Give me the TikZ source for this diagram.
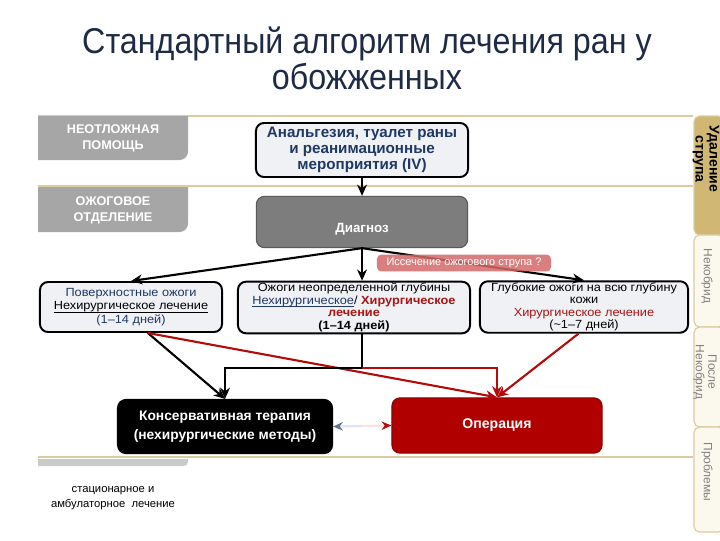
\documentclass[tikz,border=0pt]{standalone}
\usepackage{fontspec}
\setmainfont{Liberation Sans}
\newfontfamily\titlefont[FakeStretch=0.9]{Liberation Sans}
\newfontfamily\boxfamily[FakeStretch=1.08]{Liberation Sans}
\usepackage{xcolor}
\usepackage{tikz}
\usetikzlibrary{shapes,arrows,arrows.meta,positioning}

\definecolor{navy}{RGB}{31,56,100}
\definecolor{titleblue}{RGB}{30,42,70}
\definecolor{textred}{RGB}{170,20,20}
\definecolor{opred}{RGB}{176,0,0}
\definecolor{arrowred}{RGB}{180,10,10}
\definecolor{boxfill}{RGB}{240,241,245}
\definecolor{tabgray}{RGB}{166,166,166}
\definecolor{diaggray}{RGB}{125,125,125}
\definecolor{bandtan}{RGB}{218,204,158}
\definecolor{gold}{RGB}{208,184,116}
\definecolor{cream}{RGB}{251,248,238}
\definecolor{labelred}{RGB}{212,104,104}

\newcommand{\boxfont}{\boxfamily\fontsize{8.4}{8.9}\selectfont\lineskiplimit=-6pt\relax}
\newcommand{\ulfix}[1]{\underline{\smash{#1}}}

\begin{document}
\begin{tikzpicture}[
    x=0.025cm, y=-0.025cm,
    box/.style={rectangle, draw=black, line width=1.4pt, rounded corners=0.2cm, fill=boxfill, align=center, inner sep=1pt},
    smalltext/.style={font=\boxfont},
    tabtext/.style={text=white, align=center, font=\fontsize{9}{11.5}\selectfont\bfseries},
    sidetab/.style={draw=bandtan, line width=0.8pt, fill=cream, rounded corners=4pt},
    sidetext/.style={rotate=-90, align=center, text=gray, font=\fontsize{8.5}{9}\selectfont},
    band/.style={draw=bandtan, line width=2pt},
    arrow/.style={->, >={Stealth[length=8pt, width=7pt]}, line width=1.5pt},
    redarrow/.style={arrow, draw=arrowred}
]
\useasboundingbox (0,0) rectangle (720,540);

% Title
\node[font=\titlefont\fontsize{25.5}{25.5}\selectfont, text=titleblue, align=center] (title) at (367,58) {Стандартный алгоритм лечения ран у\\обожженных};

% Bands
\draw[band] (38,116) -- (693,116);
\draw[band] (38,186) -- (693,186);
\draw[band] (38,457) -- (693,457);

% Left tabs
\fill[tabgray] (38,116) -- (188,116) [rounded corners=6pt] -- (188,160) [sharp corners] -- (38,160) -- cycle;
\fill[tabgray] (38,187) -- (188,187) [rounded corners=6pt] -- (188,232) [sharp corners] -- (38,232) -- cycle;
\fill[tabgray!60] (38,459) -- (188,459) [rounded corners=3pt] -- (188,466) [sharp corners] -- (38,466) -- cycle;
\node[tabtext] (emerg) at (113,138) {НЕОТЛОЖНАЯ\\ПОМОЩЬ};
\node[tabtext] (burnunit) at (113,210) {ОЖОГОВОЕ\\ОТДЕЛЕНИЕ};
\node[font=\fontsize{8}{10.5}\selectfont, align=center] (inpatient) at (113,498) {стационарное и\\амбулаторное\ \ лечение};

% Right tabs
\draw[sidetab, fill=gold] (694,116) rectangle (724,235);
\draw[sidetab] (694,235) rectangle (724,327);
\draw[sidetab] (694,327) rectangle (724,427);
\draw[sidetab] (694,427) rectangle (724,532);
\node[sidetext, text=black, font=\fontsize{10}{10}\selectfont\bfseries] (excise) at (706,159) {Удаление\\струпа};
\node[sidetext] (necro) at (707,276) {Некобрид};
\node[sidetext] (afternecro) at (705,372) {После\\Некобрид};
\node[sidetext] (problems) at (707,472) {Проблемы};

% Boxes
\node[box, minimum width=5.3cm, minimum height=1.35cm, text=navy, font=\fontsize{10.8}{11.6}\selectfont\bfseries] (analg) at (362,150) {Анальгезия, туалет раны\\и реанимационные\\мероприятия (IV)};
\node[box, fill=diaggray, draw=diaggray!70!black, line width=0.8pt, minimum width=5.28cm, minimum height=1.28cm, text=white, font=\fontsize{9.5}{11}\selectfont\bfseries] (diag) at (362,222) {\raisebox{-4pt}[7pt][0pt]{Диагноз}};

\node[box, smalltext, font=\boxfamily\fontsize{8.4}{9.8}\selectfont, minimum width=4.55cm, minimum height=1.25cm, text=navy] (surf) at (131,307) {Поверхностные ожоги\\\textcolor{black}{\ulfix{Нехирургическое лечение}}\\(1–14 дней)};
\node[box, smalltext, minimum width=5.8cm, minimum height=1.28cm] (indet) at (354,307.5) {Ожоги неопределенной глубины\\\textcolor{navy}{\ulfix{Нехирургическое}}/ \textcolor{textred}{\textbf{Хирургическое}}\\\textcolor{textred}{\textbf{лечение}}\\\textbf{(1–14 дней)}};
\node[box, smalltext, minimum width=5.2cm, minimum height=1.25cm] (deep) at (584,307) {Глубокие ожоги на всю глубину\\кожи\\\textcolor{textred}{Хирургическое лечение}\\(\textasciitilde1–7 дней)};

\node[box, fill=black, minimum width=5.35cm, minimum height=1.33cm, text=white, font=\fontsize{9.8}{13.5}\selectfont\bfseries] (cons) at (225,426.5) {Консервативная терапия\\(нехирургические методы)};
\node[box, fill=opred, draw=opred!80!black, line width=0.8pt, minimum width=5.25cm, minimum height=1.38cm, text=white, font=\fontsize{10}{12}\selectfont\bfseries] (op) at (497,425.5) {Операция};

% Arrows
\draw[arrow] (analg) -- (diag);
\draw[arrow] (diag.south) -- (surf.north);
\draw[arrow] (diag.south) -- (diag.south |- indet.north);
\draw[arrow] (diag.south) -- (deep.north);
\node[fill=labelred, fill opacity=0.85, text opacity=1, text=white, rounded corners=3pt, minimum width=4.35cm, minimum height=0.42cm, inner sep=1pt, font=\fontsize{7.8}{8}\selectfont] (excq) at (464,263) {Иссечение ожогового струпа ?};

\path (diag.south |- indet.south) ++(0,34) coordinate (split);
\draw[arrow] ([xshift=12pt]surf.south) -- (cons.north);
\draw[redarrow] ([xshift=12pt]surf.south) -- (op.north);
\draw[arrow] (diag.south |- indet.south) -- (split) -| (cons.north);
\draw[redarrow] (split) -| (op.north);
\draw[redarrow] ([xshift=-4pt]deep.south) -- (op.north);

\path (cons.east) -- (op.west) coordinate[pos=0.5] (mid);
\draw[blue!12, line width=1.5pt, -{Stealth[color=navy!70, length=7pt, width=6pt]}] (mid) -- (cons.east);
\draw[red!12, line width=1.5pt, -{Stealth[color=arrowred, length=7pt, width=6pt]}] (mid) -- (op.west);

\end{tikzpicture}
\end{document}
